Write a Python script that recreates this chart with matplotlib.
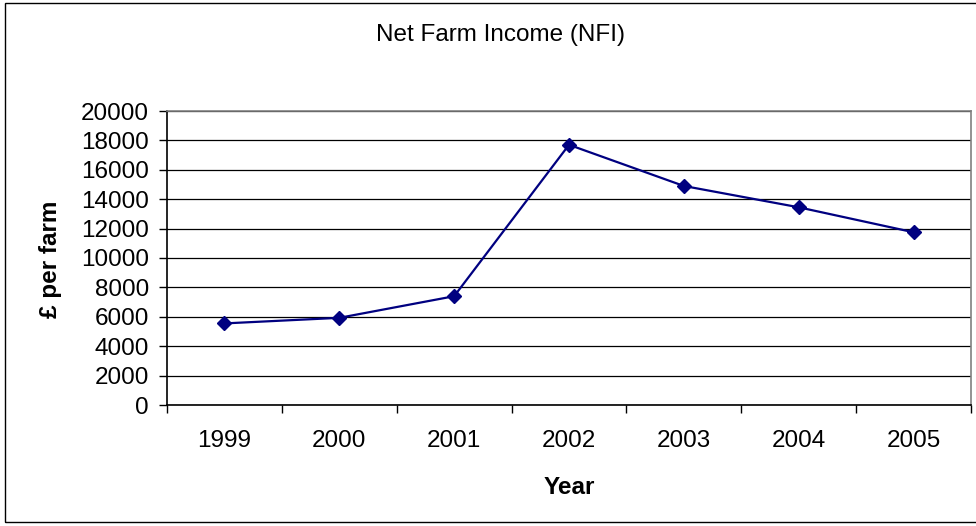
import matplotlib.pyplot as plt
from matplotlib.patches import Rectangle

# === Dados ===
years = ["1999", "2000", "2001", "2002", "2003", "2004", "2005"]
nfi = [5550, 5930, 7400, 17700, 14900, 13450, 11750]

plt.rcParams['font.family'] = ['Liberation Sans', 'DejaVu Sans']
FS = 17.5

fig = plt.figure(figsize=(9.76, 5.26), dpi=100)
ax = fig.add_axes([167 / 976, 1 - 405 / 526, (971 - 167) / 976, (405 - 111) / 526])

x = [i + 0.5 for i in range(len(years))]
ax.plot(x, nfi, color="#000080", linewidth=1.6, marker="D", markersize=7,
        markerfacecolor="#000080", markeredgecolor="#000080", zorder=3)

ax.set_xlim(0, len(years))
ax.set_ylim(0, 20000)
ax.set_yticks(range(0, 20001, 2000))
ax.yaxis.grid(True, color="black", linewidth=0.9)
ax.set_axisbelow(True)

# ticks nas fronteiras das categorias (estilo Excel)
ax.set_xticks(range(len(years) + 1))
ax.set_xticklabels([])
ax.set_xticks(x, minor=True)
ax.set_xticklabels(years, minor=True)
ax.tick_params(axis="x", which="major", direction="out", length=6, width=1)
ax.tick_params(axis="x", which="minor", length=0, pad=18, labelsize=FS)
ax.tick_params(axis="y", direction="out", length=6, width=1, labelsize=FS, pad=7)

for side in ["top", "right"]:
    ax.spines[side].set_color("#808080")
    ax.spines[side].set_linewidth(1.2)
for side in ["left", "bottom"]:
    ax.spines[side].set_color("black")
    ax.spines[side].set_linewidth(1.2)

ax.set_xlabel("Year", fontsize=FS, fontweight="bold", va="center")
ax.xaxis.set_label_coords((569 - 167) / (971 - 167), (405 - 487) / (405 - 111))
ax.set_ylabel("£ per farm", fontsize=FS, fontweight="bold", va="center")
ax.yaxis.set_label_coords((50 - 167) / (971 - 167), (405 - 259) / (405 - 111))
fig.text(501 / 976, 1 - 35 / 526, "Net Farm Income (NFI)", ha="center", va="center", fontsize=FS)

# moldura do gráfico
fig.patches.append(Rectangle((5 / 976, 4 / 526), 1.2, 1 - 7 / 526, transform=fig.transFigure,
                             fill=False, edgecolor="black", linewidth=1))

fig.savefig("out.png", dpi=100)
